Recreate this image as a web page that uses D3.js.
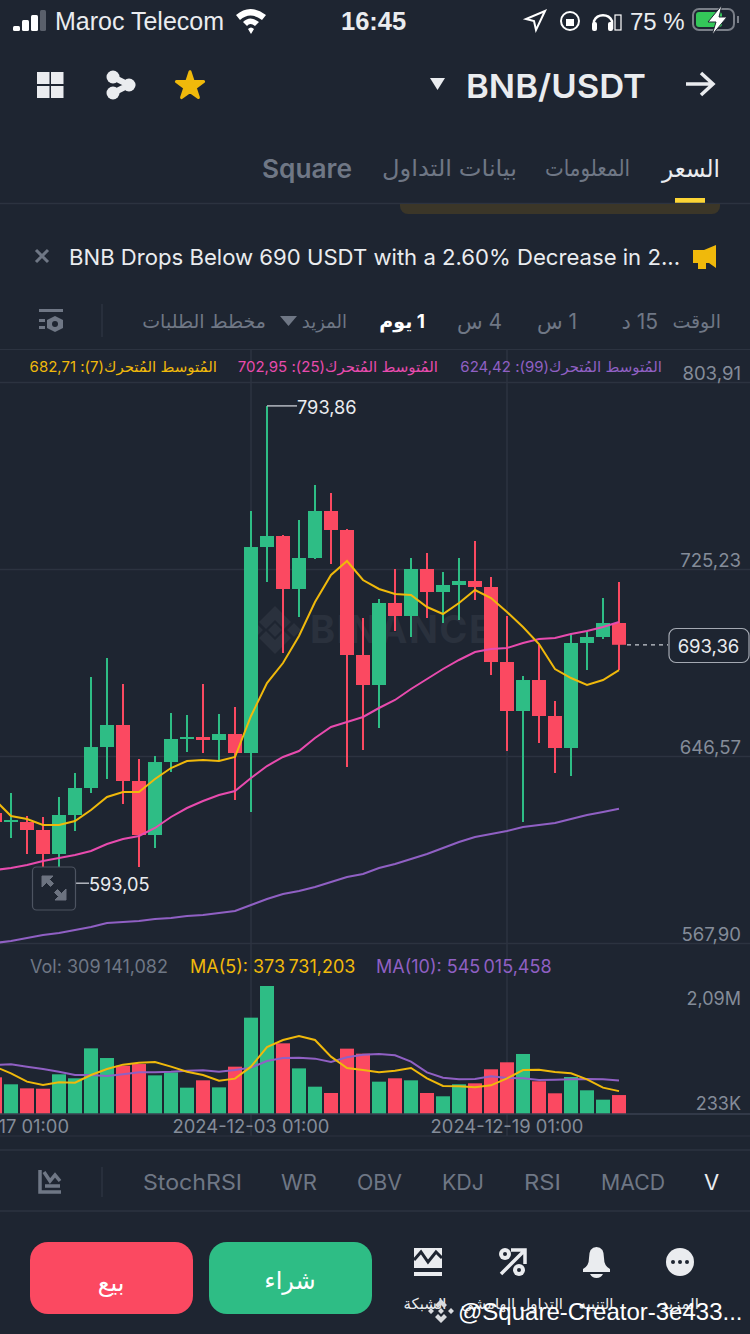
<!DOCTYPE html>
<html>
<head>
<meta charset="utf-8">
<script src="https://cdn.jsdelivr.net/npm/d3@7"></script>
<style>
  html, body { margin: 0; padding: 0; background: #1e2531; }
  svg { display: block; }
  text { font-family: Inter, "DejaVu Sans", sans-serif; }
</style>
</head>
<body>
<svg width="750" height="1334"></svg>
<script>
const svg = d3.select("svg"),
  width = +svg.attr("width"),
  height = +svg.attr("height");

// Datos (velas diarias)
const opens = [622.59,618.80,618.80,615.44,605.34,621.75,633.11,650.35,659.61,636.05,613.33,644.04,653.72,654.56,653.30,655.82,647.83,734.49,739.12,716.83,729.87,749.64,741.65,689.06,676.44,710.94,705.47,725.24,715.56,718.51,720.19,717.67,686.11,665.50,678.54,663.40,649.93,694.11,696.63,702.52];
const highs = [625.95,631.00,621.33,620.91,629.32,639.42,679.80,687.80,676.86,645.31,646.57,664.66,663.82,676.86,664.24,667.18,749.64,793.86,739.54,745.85,760.58,757.21,742.07,704.62,712.62,725.24,729.87,731.97,723.98,729.87,737.02,721.87,705.47,680.22,693.27,669.71,698.31,698.73,713.04,719.77];
const lows = [617.12,612.07,605.34,598.19,593.05,615.02,631.00,636.89,626.37,599.87,607.86,639.84,648.25,647.83,644.89,628.06,623.01,719.77,689.90,705.05,729.45,727.34,641.94,649.09,658.35,699.16,696.63,704.62,702.52,703.78,712.20,680.64,648.67,618.80,652.04,639.42,638.15,682.75,695.79,682.75];
const closes = [618.80,619.64,615.44,605.34,621.75,633.11,650.35,659.61,636.05,613.33,644.04,653.72,654.56,653.30,655.82,647.83,734.49,739.12,716.83,729.87,749.64,741.65,689.06,676.44,710.94,705.47,725.24,715.56,718.51,720.19,717.67,686.11,665.50,678.54,663.40,649.93,694.11,696.63,702.52,693.36];

const ma7 = [628.06,621.33,620.06,617.54,617.54,619.22,623.85,629.32,631.42,631.42,636.89,641.52,644.46,644.89,644.46,646.15,663.40,677.28,685.69,697.05,711.36,722.71,728.60,720.61,716.83,714.72,714.30,709.25,706.31,710.94,716.40,713.04,707.15,700.84,693.69,683.17,679.38,676.44,678.54,682.71];
const ma25 = [598.61,599.45,600.71,602.39,603.66,604.92,606.60,609.55,611.65,612.91,616.28,620.91,624.69,627.64,630.16,631.84,637.31,642.36,646.15,648.67,654.14,658.77,660.87,662.98,666.76,670.13,674.76,678.96,683.17,686.96,690.32,691.58,692.00,694.11,695.79,696.21,697.89,699.16,700.84,702.95];
const ma99 = [567.90,568.74,570.00,571.26,572.10,573.37,574.63,576.31,576.73,577.15,577.99,578.41,579.26,579.68,580.52,581.36,583.88,586.41,588.51,589.77,591.46,593.56,595.66,596.93,599.45,601.13,603.24,605.34,607.86,610.39,612.49,613.75,615.02,616.70,617.54,618.38,620.06,621.75,623.01,624.42];

const volumes = [599000,485000,419000,413000,648000,583000,1072000,914000,789000,816000,631000,680000,430000,550000,435000,773000,1573000,2090000,1154000,745000,446000,343000,1067000,985000,528000,583000,550000,343000,289000,485000,501000,730000,844000,980000,534000,338000,604000,387000,234000,309141.082];
const volMa5 = [773000,664000,528000,474000,517000,512000,637000,735000,806000,838000,849000,773000,691000,637000,544000,577000,773000,1094000,1208000,1274000,1208000,936000,751000,718000,680000,708000,751000,582000,457000,452000,435000,468000,582000,718000,724000,686000,664000,566000,430000,373731.203];
const volMa10 = [800000,811000,773000,735000,691000,637000,637000,620000,648000,680000,680000,691000,708000,713000,691000,718000,757000,865000,914000,920000,904000,849000,925000,969000,980000,958000,855000,680000,593000,566000,572000,615000,588000,582000,555000,561000,566000,572000,566000,545015.458];

const priceTicks = [803.91, 725.23, 646.57, 567.90];
const volTicks = [2090000, 233000];
const volTickLabels = ["2,09M", "233K"];
const timeTickIdx = [0, 16, 32];
const timeTickLabels = ["2024-11-17 01:00", "2024-12-03 01:00", "2024-12-19 01:00"];

const bg = "#1e2531", grid = "#2c3340", up = "#2ebd85", down = "#fb4961",
  gold = "#f0b90b", pink = "#e84bae", purple = "#9060c4",
  light = "#eaecef", gray = "#6f7785", gray2 = "#848c99";

// Formato con coma decimal, como en la captura
const loc = d3.formatLocale({ decimal: ",", thousands: "\u2009", grouping: [3], currency: ["", ""] });
const fmt2 = loc.format(".2f"), fmt3 = loc.format(",.3f");

svg.append("rect").attr("width", width).attr("height", height).attr("fill", bg);

function txt(x, y, s, o = {}) {
  const t = svg.append("text")
    .attr("x", x).attr("y", y)
    .attr("dominant-baseline", "central")
    .attr("text-anchor", o.anchor || "start")
    .attr("fill", o.fill || light)
    .style("font-size", (o.size || 20) + "px")
    .style("font-weight", o.weight || 400)
    .style("font-family", o.family || null)
    .text(s);
  // ajusta al ancho de la captura
  if (o.len) t.attr("textLength", o.len).attr("lengthAdjust", "spacingAndGlyphs");
  return t;
}
function hline(y, c = grid, w = 1) {
  svg.append("line").attr("x1", 0).attr("x2", width).attr("y1", y).attr("y2", y).attr("stroke", c).attr("stroke-width", w);
}

// Escalas
const idx = d3.range(opens.length);
const x = d3.scaleBand().domain(idx).range([-13, 627]).paddingInner(0.125).paddingOuter(0.0625);
const cx = i => x(i) + x.bandwidth() / 2;
const y = d3.scaleLinear().domain([567.90, 803.91]).range([943, 382]);
const yVol = d3.scaleLinear().domain([0, 2090000]).range([1114, 986]);

// Rejilla vertical
timeTickIdx.forEach(i => {
  svg.append("line").attr("x1", cx(i)).attr("x2", cx(i)).attr("y1", 349).attr("y2", 1136).attr("stroke", grid).attr("stroke-width", 1.5);
});

// Marca de agua
const wm = svg.append("g").attr("fill", "#2a313d");
wm.append("path").attr("d", "M275,606 l16,16 -7,7 -9,-9 -9,9 -7,-7z M275,654 l16,-16 -7,-7 -9,9 -9,-9 -7,7z M275,623 l7,7 -7,7 -7,-7z M294,623 l7,7 -7,7 -7,-7z M256,623 l7,7 -7,7 -7,-7z");
wm.append("text").attr("x", 310).attr("y", 643).attr("textLength", 182).style("font-size", "38px").style("font-weight", 700).text("BINANCE");

// Eje de precios
svg.append("g")
  .call(d3.axisRight(y).tickValues(priceTicks).tickSize(width).tickFormat(fmt2))
  .call(g => g.select(".domain").remove())
  .call(g => g.selectAll("line").attr("stroke", grid).attr("stroke-width", 1.5))
  .call(g => g.selectAll("text")
    .attr("x", 741).attr("y", -10).attr("dy", null)
    .attr("dominant-baseline", "central").attr("text-anchor", "end")
    .attr("fill", gray2).style("font-size", "18.6px"));

// Velas
const candle = svg.append("g").selectAll("g").data(idx).join("g")
  .attr("fill", i => closes[i] >= opens[i] ? up : down)
  .attr("stroke", i => closes[i] >= opens[i] ? up : down);
candle.append("line")
  .attr("x1", cx).attr("x2", cx)
  .attr("y1", i => y(highs[i])).attr("y2", i => y(lows[i]))
  .attr("stroke-width", 2);
candle.append("rect")
  .attr("x", i => x(i))
  .attr("width", x.bandwidth())
  .attr("y", i => y(Math.max(opens[i], closes[i])))
  .attr("height", i => Math.abs(y(opens[i]) - y(closes[i])))
  .attr("stroke", "none");

// Medias moviles
const priceLine = d3.line().x((d, i) => cx(i)).y(d => y(d));
[[ma99, purple], [ma25, pink], [ma7, gold]].forEach(([s, c]) => {
  svg.append("path").attr("d", priceLine(s)).attr("fill", "none").attr("stroke", c).attr("stroke-width", 2);
});

// Etiquetas maximo y minimo
const hi = d3.max(highs), lo = d3.min(lows);
svg.append("line").attr("x1", cx(highs.indexOf(hi))).attr("x2", 297).attr("y1", y(hi)).attr("y2", y(hi)).attr("stroke", "#b4b8c0").attr("stroke-width", 1.5);
txt(297, y(hi) + 1, fmt2(hi), { size: 18.2 });
svg.append("line").attr("x1", cx(lows.indexOf(lo))).attr("x2", 89).attr("y1", y(lo)).attr("y2", y(lo)).attr("stroke", "#b4b8c0").attr("stroke-width", 1.5);
txt(89, y(lo) + 1, fmt2(lo), { size: 18.2 });

// Boton expandir
svg.append("rect").attr("x", 32.5).attr("y", 867).attr("width", 43).attr("height", 43).attr("rx", 4).attr("fill", bg).attr("stroke", "#4d5461").attr("stroke-width", 1.2);
svg.append("path").attr("d", "M42,876 h11 l-3.5,3.5 4,4 -3,3 -4,-4 -4.500,4.500z M66,900 h-11 l3.500,-3.500 -4,-4 3,-3 4,4 4.500,-4.500z").attr("fill", "#6c7380").attr("stroke", "#6c7380");

// Precio actual
const last = closes[closes.length - 1];
svg.append("line").attr("x1", 627).attr("x2", 668).attr("y1", y(last)).attr("y2", y(last)).attr("stroke", "#c8ccd2").attr("stroke-width", 1.2).attr("stroke-dasharray", "4 4");
svg.append("rect").attr("x", 669).attr("y", 628.500).attr("width", 80).attr("height", 34).attr("rx", 7).attr("fill", bg).attr("stroke", "#a4a9b2").attr("stroke-width", 1.2);
txt(708.5, y(last) + 1, fmt2(last), { size: 18.5, anchor: "middle" });

// Leyenda medias
[[662, "\u0627\u0644\u0645\u064F\u062A\u0648\u0633\u0637 \u0627\u0644\u0645\u064F\u062A\u062D\u0631\u0643(99): " + fmt2(ma99[39]), purple],
 [438, "\u0627\u0644\u0645\u064F\u062A\u0648\u0633\u0637 \u0627\u0644\u0645\u064F\u062A\u062D\u0631\u0643(25): " + fmt2(ma25[39]), pink],
 [217, "\u0627\u0644\u0645\u064F\u062A\u0648\u0633\u0637 \u0627\u0644\u0645\u064F\u062A\u062D\u0631\u0643(7): " + fmt2(ma7[39]), gold]].forEach(([px, s, c]) => {
  txt(px, 366, s, { size: 15, fill: c }).attr("direction", "rtl");
});

// Volumen
svg.append("g").selectAll("rect").data(idx).join("rect")
  .attr("x", i => x(i))
  .attr("width", x.bandwidth())
  .attr("y", i => yVol(volumes[i]))
  .attr("height", i => yVol(0) - yVol(volumes[i]))
  .attr("fill", i => closes[i] >= opens[i] ? up : down);
const volLine = d3.line().x((d, i) => cx(i)).y(d => yVol(d));
[[volMa10, purple], [volMa5, gold]].forEach(([s, c]) => {
  svg.append("path").attr("d", volLine(s)).attr("fill", "none").attr("stroke", c).attr("stroke-width", 2);
});
hline(1114, "#3a4150", 1.5);

svg.append("g").attr("transform", "translate(741,0)")
  .call(d3.axisLeft(yVol).tickValues(volTicks).tickSize(0).tickFormat((d, i) => volTickLabels[i]))
  .call(g => g.select(".domain").remove())
  .call(g => g.selectAll("text")
    .attr("x", 0).attr("dy", null)
    .attr("y", (d, i) => [12, 3][i])
    .attr("dominant-baseline", "central").attr("text-anchor", "end")
    .attr("fill", gray2).style("font-size", "18px"));

txt(30, 966, "Vol: " + fmt3(volumes[39]), { size: 18, fill: gray });
txt(190, 966, "MA(5): " + fmt3(volMa5[39]), { size: 18, fill: gold });
txt(376, 966, "MA(10): " + fmt3(volMa10[39]), { size: 18, fill: purple });

// Eje de tiempo
svg.append("g").attr("transform", "translate(0,1114)")
  .call(d3.axisBottom(x).tickValues(timeTickIdx).tickSize(0).tickFormat((d, i) => timeTickLabels[i]))
  .call(g => g.select(".domain").remove())
  .call(g => g.selectAll("text")
    .attr("y", 12).attr("dy", null)
    .attr("dominant-baseline", "central")
    .attr("fill", gray2).style("font-size", "18.4px"));

hline(1136); hline(1150, "#2c3340", 1.5); hline(1211, "#2c3340", 1.5);

// ---- Barra de estado ----
[[13, 26, 5], [22, 20, 11], [31, 15, 16]].forEach(([bx, by, bh]) => {
  svg.append("rect").attr("x", bx).attr("y", by).attr("width", 7).attr("height", bh).attr("rx", 1.5).attr("fill", "#fff");
});
svg.append("rect").attr("x", 40).attr("y", 10).attr("width", 6).attr("height", 21).attr("rx", 1.5).attr("fill", "#5a606b");
txt(55, 21, "Maroc Telecom", { size: 25, family: "Liberation Sans" });
svg.append("path").attr("d", "M236,15 Q250,3 266,15 L262,20 Q250,11 240,20z M243,22 Q250,15 259,22 L255,26 Q250,22 247,26z M251,34 L248,29 Q251,26 254,29z").attr("fill", "#fff");
txt(341, 21, "16:45", { size: 25.5, weight: 600, family: "Liberation Sans" });
svg.append("path").attr("d", "M545,11 L536,30 L534,21 L526,19z").attr("fill", "none").attr("stroke", "#fff").attr("stroke-width", 2);
svg.append("circle").attr("cx", 570).attr("cy", 21).attr("r", 9).attr("fill", "none").attr("stroke", "#fff").attr("stroke-width", 2);
svg.append("rect").attr("x", 566).attr("y", 19).attr("width", 8).attr("height", 7).attr("fill", "#fff");
svg.append("path").attr("d", "M594,29 V21 a10,10 0 0 1 18,0 V29").attr("fill", "none").attr("stroke", "#fff").attr("stroke-width", 2.5);
svg.append("rect").attr("x", 592).attr("y", 22).attr("width", 5).attr("height", 9).attr("rx", 2).attr("fill", "#fff");
svg.append("rect").attr("x", 608).attr("y", 22).attr("width", 5).attr("height", 9).attr("rx", 2).attr("fill", "#fff");
svg.append("rect").attr("x", 615).attr("y", 15).attr("width", 6).attr("height", 15).attr("fill", "none").attr("stroke", "#fff").attr("stroke-width", 1.2);
txt(630, 21, "75 %", { size: 24, family: "Liberation Sans" });
svg.append("rect").attr("x", 693).attr("y", 9).attr("width", 41).attr("height", 21).attr("rx", 6).attr("fill", "none").attr("stroke", "#7a7f88").attr("stroke-width", 2);
svg.append("rect").attr("x", 696).attr("y", 12).attr("width", 26).attr("height", 15).attr("rx", 3).attr("fill", "#34c759");
svg.append("path").attr("d", "M722,5 L708,22 H716 L712,35 L727,17 H719z").attr("fill", "#fff").attr("stroke", bg);
svg.append("rect").attr("x", 737).attr("y", 16).attr("width", 2).attr("height", 7).attr("fill", "#7a7f88");

// ---- Cabecera ----
[[37, 72], [51, 72], [37, 86], [51, 86]].forEach(([gx, gy]) => {
  svg.append("rect").attr("x", gx).attr("y", gy).attr("width", 12.5).attr("height", 12).attr("fill", light);
});
svg.append("path").attr("d", "M113,77 L129,85 L113,93").attr("fill", "none").attr("stroke", light).attr("stroke-width", 6);
[[113, 77, 6.5], [129, 85, 6.5], [113, 93, 6.5]].forEach(([a, b, r]) => svg.append("circle").attr("cx", a).attr("cy", b).attr("r", r).attr("fill", light));
svg.append("path").attr("d", d3.symbol(d3.symbolStar, 230)()).attr("transform", "translate(190,86)").attr("fill", gold).attr("stroke", gold).attr("stroke-linejoin", "round").attr("stroke-width", 3);
svg.append("path").attr("d", "M430,78 H445 L437.500,90z").attr("fill", light);
txt(466, 86, "BNB/USDT", { size: 33, weight: 600, len: 180 });
svg.append("path").attr("d", "M686,84 H712 M701,73 L713,84 L701,95").attr("fill", "none").attr("stroke", light).attr("stroke-width", 3.5);

// ---- Pestanas ----
txt(720, 168, "\u0627\u0644\u0633\u0639\u0631", { size: 24, anchor: "end", fill: light, len: 58 });
txt(630, 168, "\u0627\u0644\u0645\u0639\u0644\u0648\u0645\u0627\u062A", { size: 23, anchor: "end", fill: gray, len: 85 });
txt(517, 168, "\u0628\u064A\u0627\u0646\u0627\u062A \u0627\u0644\u062A\u062F\u0627\u0648\u0644", { size: 23, anchor: "end", fill: gray, len: 135 });
txt(262, 168, "Square", { size: 26, weight: 600, fill: gray, len: 90 });
svg.append("rect").attr("x", 675).attr("y", 198).attr("width", 30).attr("height", 6).attr("fill", "#fcd535");
hline(203.500, "#2c3340", 1.5);
svg.append("path").attr("d", "M400,204 H720 V206 a8,8 0 0 1 -8,8 H408 a8,8 0 0 1 -8,-8z").attr("fill", "#3b3628");

// ---- Noticia ----
svg.append("path").attr("d", "M36,250 L48,262 M48,250 L36,262").attr("stroke", gray).attr("stroke-width", 3);
txt(69, 257, "BNB Drops Below 690 USDT with a 2.60% Decrease in 2...", { size: 22, len: 611 });
svg.append("path").attr("d", "M693,250 H704 L716,245 V268 L709,263 H706 V269 H698 V263 H693z").attr("fill", gold);

// ---- Intervalos ----
svg.append("path").attr("d", "M39,309 H63 V312 H39z M39,319 H45 V322 H39z M39,326 H45 V329 H39z").attr("fill", gray);
svg.append("path").attr("d", "M55,316 L63,320 V328 L55,332 L47,328 V320z").attr("fill", gray);
svg.append("circle").attr("cx", 55).attr("cy", 324).attr("r", 3).attr("fill", bg);
svg.append("line").attr("x1", 102).attr("x2", 102).attr("y1", 304).attr("y2", 337).attr("stroke", grid).attr("stroke-width", 1.5);
txt(721, 321, "\u0627\u0644\u0648\u0642\u062A", { size: 19, anchor: "end", fill: gray });
txt(658, 321, "15 \u062F", { size: 21, fill: gray }).attr("direction", "rtl");
txt(577, 321, "1 \u0633", { size: 21, fill: gray }).attr("direction", "rtl");
txt(502, 321, "4 \u0633", { size: 21, fill: gray }).attr("direction", "rtl");
txt(425, 321, "1 \u064A\u0648\u0645", { size: 19, weight: 700, fill: "#fff" }).attr("direction", "rtl");
txt(347, 321, "\u0627\u0644\u0645\u0632\u064A\u062F", { size: 18, anchor: "end", fill: gray });
svg.append("path").attr("d", "M280,316 H297 L288.500,326z").attr("fill", gray);
txt(266, 321, "\u0645\u062E\u0637\u0637 \u0627\u0644\u0637\u0644\u0628\u0627\u062A", { size: 19, anchor: "end", fill: gray });
hline(349.500);

// ---- Indicadores ----
svg.append("path").attr("d", "M40,1170 V1192 H61 M45,1186 H60 M44,1172 L50,1181 L55,1175 L60,1181").attr("fill", "none").attr("stroke", gray).attr("stroke-width", 3.5);
svg.append("line").attr("x1", 102).attr("x2", 102).attr("y1", 1167).attr("y2", 1197).attr("stroke", grid).attr("stroke-width", 1.5);
[["StochRSI", 143, 99], ["WR", 281, 36], ["OBV", 357, 45], ["KDJ", 442, 42], ["RSI", 524, 37], ["MACD", 601, 64]].forEach(([s, px, w]) => {
  txt(px, 1182, s, { size: 21.5, fill: gray, len: w });
});
txt(704, 1182, "V", { size: 22, fill: light });

// ---- Botones ----
svg.append("rect").attr("x", 30).attr("y", 1242).attr("width", 163).attr("height", 72).attr("rx", 18).attr("fill", down);
svg.append("rect").attr("x", 209).attr("y", 1242).attr("width", 163).attr("height", 72).attr("rx", 18).attr("fill", up);
txt(111, 1282, "\u0628\u064A\u0639", { size: 24, anchor: "middle", fill: "#fff" });
txt(290, 1280, "\u0634\u0631\u0627\u0621", { size: 24, anchor: "middle", fill: "#fff" });

// Iconos inferiores
svg.append("path").attr("d", "M414,1248 H442 V1268 H414z").attr("fill", light);
svg.append("path").attr("d", "M414,1260 L421,1252 L428,1262 L436,1252 L442,1258").attr("fill", "none").attr("stroke", bg).attr("stroke-width", 3);
svg.append("path").attr("d", "M414,1274 H442").attr("stroke", light).attr("stroke-width", 4).attr("fill", "none");
svg.append("path").attr("d", "M501,1274 L525,1250 M511,1250 H525 V1264").attr("fill", "none").attr("stroke", light).attr("stroke-width", 3.5);
svg.append("circle").attr("cx", 505).attr("cy", 1254).attr("r", 6).attr("fill", light);
svg.append("circle").attr("cx", 519).attr("cy", 1270).attr("r", 6).attr("fill", light);
svg.append("circle").attr("cx", 505).attr("cy", 1254).attr("r", 2).attr("fill", bg);
svg.append("circle").attr("cx", 519).attr("cy", 1270).attr("r", 2).attr("fill", bg);
svg.append("path").attr("d", "M583,1269 Q589,1266 589,1258 Q589,1247 596.500,1247 Q604,1247 604,1258 Q604,1266 610,1269 V1272 H583z").attr("fill", light);
svg.append("path").attr("d", "M590,1274 H603 Q601,1278 596.500,1278 Q592,1278 590,1274z").attr("fill", light);
svg.append("circle").attr("cx", 680).attr("cy", 1262).attr("r", 14).attr("fill", light);
[673, 680, 687].forEach(cxx => svg.append("circle").attr("cx", cxx).attr("cy", 1262).attr("r", 2).attr("fill", bg));

txt(425, 1303, "\u0627\u0644\u0634\u0628\u0643\u0629", { size: 15, anchor: "middle" });
txt(512, 1303, "\u0627\u0644\u062A\u062F\u0627\u0648\u0644 \u0627\u0644\u0647\u0627\u0645\u0634\u064A", { size: 15, anchor: "middle" });
txt(596, 1303, "\u0627\u0644\u062A\u0646\u0628\u064A\u0647", { size: 15, anchor: "middle" });
txt(680, 1303, "\u0627\u0644\u0645\u0632\u064A\u062F", { size: 15, anchor: "middle" });

// Marca de la publicacion
svg.append("path").attr("d", "M441,1299 l6,6 -3,3 -3,-3 -3,3 -3,-3z M441,1323 l6,-6 -3,-3 -3,3 -3,-3 -3,3z M441,1308 l3,3 -3,3 -3,-3z M451,1308 l3,3 -3,3 -3,-3z M431,1308 l3,3 -3,3 -3,-3z").attr("fill", "#d8dade");
txt(458, 1311, "@Square-Creator-3e433...", { size: 24, fill: "#fff", family: "Liberation Sans" });
</script>
</body>
</html>
